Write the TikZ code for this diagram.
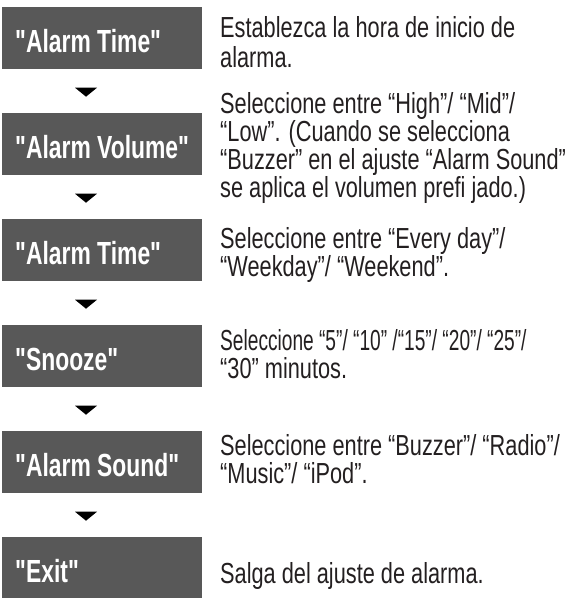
\documentclass[tikz,border=0pt]{standalone}
\usepackage{fontspec}
\usetikzlibrary{calc}
\setmainfont{Liberation Sans}
\newfontfamily\boxfont[FakeStretch=0.715]{Liberation Sans}
\newfontfamily\descfont[FakeStretch=0.75]{Liberation Sans}
\definecolor{boxgray}{RGB}{88,88,88}
\definecolor{textdark}{RGB}{35,31,32}
\tikzset{
  stepbox/.style={fill=boxgray, anchor=north west, minimum width=200pt,
    minimum height=62pt, inner xsep=13pt, inner ysep=0pt,
    text=white, font=\boxfont\bfseries\fontsize{32}{32}\selectfont,
    text height=29pt, text depth=0pt},
  desc/.style={anchor=north west, align=left, inner sep=0pt, text=textdark,
    font=\descfont\fontsize{29}{28.5}\selectfont},
  tri/.style={fill=black}
}
\newcommand{\bx}[1]{\makebox[174pt][l]{#1}}
\newcommand{\fl}{\rule{0pt}{22pt}}
\begin{document}
\begin{tikzpicture}[x=1pt,y=-1pt]
\useasboundingbox (0,0) rectangle (576,598);
\node[stepbox] (b1) at (2,7) {\bx{"Alarm Time"}};
\node[stepbox] (b2) at (2,113) {\bx{"Alarm Volume"}};
\node[stepbox] (b3) at (2,219) {\bx{"Alarm Time"}};
\node[stepbox] (b4) at (2,325) {\bx{"Snooze"}};
\node[stepbox] (b5) at (2,431) {\bx{"Alarm Sound"}};
\node[stepbox] (b6) at (2,537) {\bx{"Exit"}};

\node[desc, font=\descfont\fontsize{29}{30}\selectfont] (d1) at (220,15) {\fl Establezca la hora de inicio de\\alarma.};
\node[desc, font=\descfont\fontsize{29}{27}\selectfont] (d2) at (220,91) {\fl Seleccione entre “High”/ “Mid”/\\“Low”. (Cuando se selecciona\\“Buzzer” en el ajuste “Alarm Sound”\\se aplica el volumen prefi jado.)};
\node[desc] (d3) at (220,226) {\fl Seleccione entre “Every day”/\\“Weekday”/ “Weekend”.};
\node[desc] (d4) at (220,328) {\fl \scalebox{0.88}[1]{Seleccione “5”/ “10” /“15”/ “20”/ “25”/}\\“30” minutos.};
\node[desc] (d5) at (220,433) {\fl Seleccione entre “Buzzer”/ “Radio”/\\“Music”/ “iPod”.};
\node[desc] (d6) at (220,561) {\fl Salga del ajuste de alarma.};

\foreach \a/\b/\t in {b1/b2/t1,b2/b3/t2,b3/b4/t3,b4/b5/t4,b5/b6/t5}{
  \coordinate (\t) at ($(\a.south west)!0.5!(\b.north west)+(84,1)$);
  \fill[tri] ($(\t)+(-11,-4.5)$) -- ($(\t)+(11,-4.5)$) -- ($(\t)+(0,4.5)$) -- cycle;
}
\end{tikzpicture}
\end{document}
